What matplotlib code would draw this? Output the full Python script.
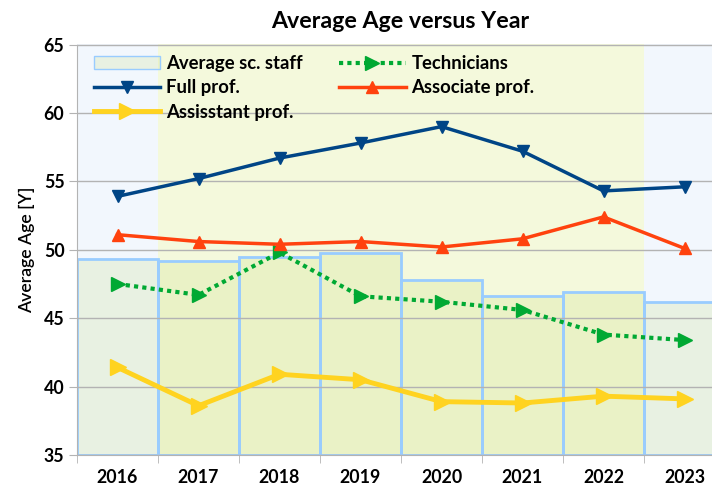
import numpy as np
import matplotlib.pyplot as plt

plt.rcParams['font.family'] = ['Lato', 'DejaVu Sans']

years = ['2016', '2017', '2018', '2019', '2020', '2021', '2022', '2023']
staff = [49.3, 49.2, 49.5, 49.75, 47.8, 46.65, 46.9, 46.2]
full_prof = [53.9, 55.2, 56.7, 57.8, 59.0, 57.2, 54.3, 54.6]
assoc_prof = [51.1, 50.6, 50.4, 50.6, 50.2, 50.8, 52.4, 50.1]
technicians = [47.5, 46.7, 49.8, 46.6, 46.2, 45.6, 43.8, 43.4]
assist_prof = [41.4, 38.6, 40.9, 40.5, 38.9, 38.8, 39.3, 39.1]

x = np.arange(len(years))

fig = plt.figure(figsize=(7.12, 4.86), dpi=100)
# plot area runs past the right edge, like the original
ax = fig.add_axes([77/712, 1-455/486, 648/712, 410.5/486])

# background shading
ax.axvspan(-0.5, 0.5, color='#f2f7fd', zorder=0, lw=0)
ax.axvspan(0.5, 6.5, color='#f4f9dc', zorder=0, lw=0)
ax.axvspan(6.5, 7.5, color='#f2f7fd', zorder=0, lw=0)

ax.yaxis.grid(True, color='#b3b3b3', lw=1, zorder=1)
ax.set_axisbelow(False)

bars = ax.bar(x, np.array(staff) - 35, bottom=35, width=1.0,
              facecolor=(0.71, 0.81, 0.29, 0.15), edgecolor='#99ccff', lw=2,
              zorder=2, label='Average sc. staff')

l_full, = ax.plot(x, full_prof, color='#004586', lw=2.5, marker='v', ms=9,
                  zorder=4, label='Full prof.')
l_assist, = ax.plot(x, assist_prof, color='#ffd320', lw=3.5, marker='>', ms=12,
                    zorder=4, label='Assisstant prof.')
l_tech, = ax.plot(x, technicians, color='#00a933', lw=3, ls=(0, (1, 1)),
                  marker='>', ms=10, zorder=4, label='Technicians')
l_assoc, = ax.plot(x, assoc_prof, color='#ff420e', lw=2.5, marker='^', ms=9,
                   zorder=4, label='Associate prof.')

ax.set_xlim(-0.5, 7.5)
ax.set_ylim(35, 65)
ax.set_yticks(np.arange(35, 66, 5))
ax.set_xticks(x)
ax.set_xticklabels(years)
ax.set_xticks(np.arange(-0.5, 8, 1), minor=True)
ax.tick_params(axis='x', which='major', length=0, pad=10)
ax.tick_params(axis='x', which='minor', length=6, color='#b3b3b3')
ax.tick_params(axis='y', length=6, color='#b3b3b3', pad=3)
for lab in ax.get_xticklabels() + ax.get_yticklabels():
    lab.set_fontweight('bold')
    lab.set_fontsize(12.8)

for s in ['top', 'right']:
    ax.spines[s].set_visible(False)
for s in ['left', 'bottom']:
    ax.spines[s].set_color('#b3b3b3')

ax.set_ylabel('Average Age [Y]', fontsize=12.7, labelpad=6, fontweight='semibold')

fig.text(400/712, 1-22/486, 'Average Age versus Year', ha='center', va='center',
         fontsize=16.7, fontweight='bold')

leg = ax.legend(handles=[bars, l_full, l_assist, l_tech, l_assoc], ncol=2,
                loc='upper left', bbox_to_anchor=(0.0, 1.015), frameon=False,
                handlelength=3.6, fontsize=13.3, columnspacing=2.0,
                labelspacing=0.4, handletextpad=0.3)
for t in leg.get_texts():
    t.set_fontweight('bold')
leg.legend_handles[0].set_linewidth(1)

fig.savefig('out.png', dpi=100)
